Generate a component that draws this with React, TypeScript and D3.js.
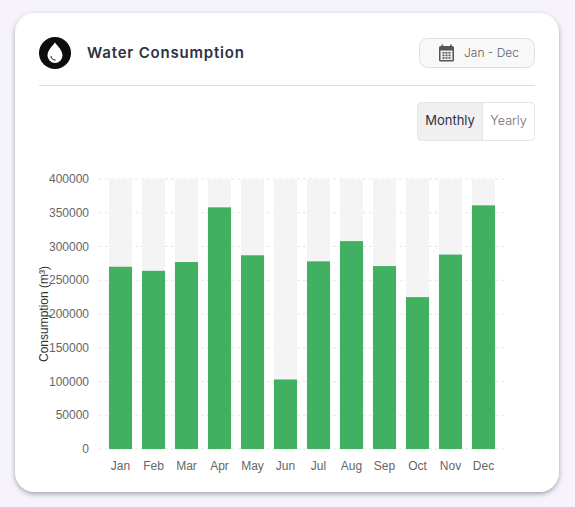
import React from 'react'
import * as d3 from 'd3'

const months = ['Jan', 'Feb', 'Mar', 'Apr', 'May', 'Jun', 'Jul', 'Aug', 'Sep', 'Oct', 'Nov', 'Dec']
const consumption = [270000, 264000, 277000, 358000, 287000, 103000, 278000, 308000, 271000, 225000, 288000, 361000]
const yTicks = [0, 50000, 100000, 150000, 200000, 250000, 300000, 350000, 400000]
const yMax = 400000

const CHART_FONT = '"Liberation Sans", Arial, sans-serif'
const UI_FONT = 'Inter, sans-serif'

const x = d3.scaleBand().domain(months).range([104, 500]).paddingInner(0.3).paddingOuter(0.15)
const y = d3.scaleLinear().domain([0, yMax]).range([449, 179])

const DropIcon = () => (
  <g>
    <circle cx={55} cy={53} r={16} fill="#0d0d0d" />
    <path d="M55 42.5 C58.5 47 62.5 50.5 62.5 55.5 A7.5 7.5 0 0 1 47.5 55.5 C47.5 50.5 51.5 47 55 42.5 Z" fill="#fff" />
    <path d="M51 56 A4.5 4.5 0 0 0 55.5 60" fill="none" stroke="#0d0d0d" strokeWidth={1} />
  </g>
)

const CalendarIcon = () => (
  <g fill="#55565a">
    <rect x={439} y={46} width={15} height={15.5} rx={1.5} />
    <rect x={441.5} y={44.5} width={1.6} height={3} />
    <rect x={450} y={44.5} width={1.6} height={3} />
    <rect x={440.5} y={50.5} width={12} height={9.5} fill="#f0f0f1" />
    {[0, 1, 2].map((r) =>
      [0, 1, 2].map((c) => (
        <rect key={`${r}-${c}`} x={442.5 + c * 3} y={52 + r * 2.6} width={2} height={1.6} />
      ))
    )}
  </g>
)

const Header = () => (
  <g>
    <DropIcon />
    <text x={87} y={58} fontFamily={UI_FONT} fontSize={15} fontWeight={600} fill="#2d3142" letterSpacing={0.8}>
      Water Consumption
    </text>
    <rect x={419.5} y={38.5} width={115} height={29} rx={8} fill="#f8f8f9" stroke="#dddee1" />
    <CalendarIcon />
    <text x={464} y={57} fontFamily={UI_FONT} fontSize={12} fontWeight={300} fill="#5f6065">
      Jan - Dec
    </text>
    <line x1={39} x2={535} y1={85.5} y2={85.5} stroke="#dedee2" />
  </g>
)

const Toggle = () => (
  <g>
    <rect x={417.5} y={102.5} width={117} height={38} rx={4} fill="#fff" stroke="#e6e6e9" />
    <path d="M482.5 102.5 H421.5 A4 4 0 0 0 417.5 106.5 V136.5 A4 4 0 0 0 421.5 140.5 H482.5 Z" fill="#f0f0f3" stroke="#e6e6e9" />
    <text x={450} y={125} textAnchor="middle" fontFamily={UI_FONT} fontSize={13} fill="#2f3138">
      Monthly
    </text>
    <text x={508.5} y={125} textAnchor="middle" fontFamily={UI_FONT} fontSize={12.6} fontWeight={300} fill="#6c6d72">
      Yearly
    </text>
  </g>
)

const Chart = () => (
  <g fontFamily={CHART_FONT} fontSize={12} fill="#666">
    {yTicks.map((t) => (
      <line key={t} x1={99} x2={504} y1={y(t)} y2={y(t)} stroke="#e5e5e5" strokeDasharray="3 3" />
    ))}
    {months.map((m, i) => (
      <g key={m}>
        <rect x={x(m)} y={y(yMax)} width={x.bandwidth()} height={y(0) - y(yMax)} fill="#f4f4f5" />
        <rect x={x(m)} y={y(consumption[i])} width={x.bandwidth()} height={y(0) - y(consumption[i])} fill="#42b061" />
        <text x={x(m)! + x.bandwidth() / 2} y={470} textAnchor="middle">
          {m}
        </text>
      </g>
    ))}
    {yTicks.map((t) => (
      <text key={t} x={89} y={y(t) + 4} textAnchor="end">
        {t}
      </text>
    ))}
    <text transform="translate(47.5,314) rotate(-90)" textAnchor="middle" fontSize={12} fill="#333">
      Consumption (m³)
    </text>
  </g>
)

export default function App() {
  return (
    <svg width={575} height={507} style={{ position: 'absolute', left: 0, top: 0, display: 'block' }}>
      <defs>
        <filter id="cardShadow" x="-10%" y="-10%" width="120%" height="120%">
          <feDropShadow dx={0} dy={2} stdDeviation={2.5} floodColor="#000" floodOpacity={0.35} />
        </filter>
      </defs>
      <rect width={575} height={507} fill="#f6f3fd" />
      <rect x={15} y={13} width={544} height={479} rx={20} fill="#fff" filter="url(#cardShadow)" />
      <Header />
      <Toggle />
      <Chart />
    </svg>
  )
}
